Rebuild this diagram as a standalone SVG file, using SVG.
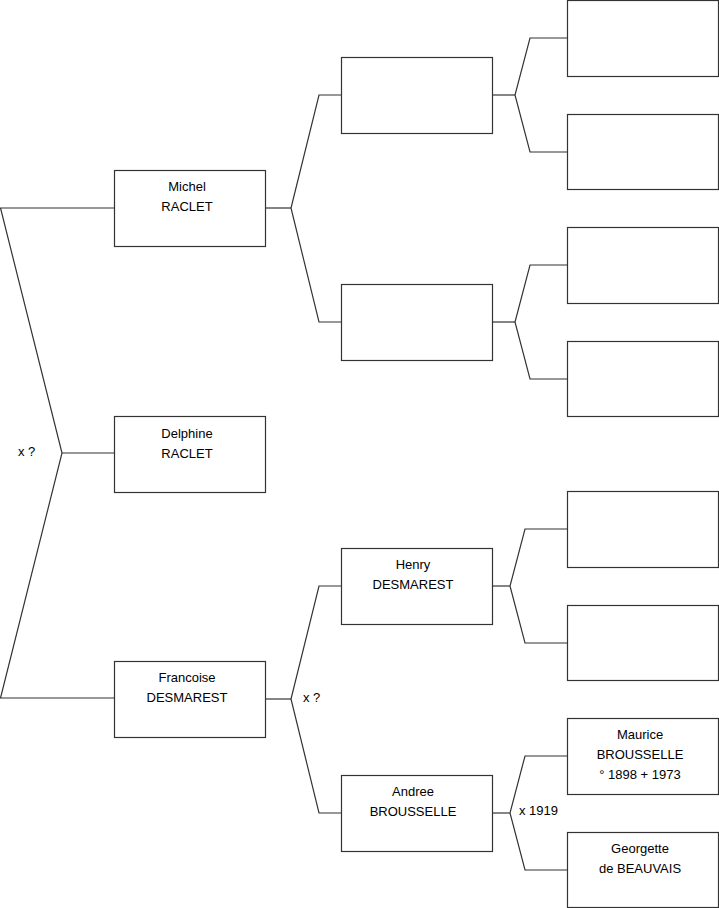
<svg xmlns="http://www.w3.org/2000/svg" width="719" height="908" viewBox="0 0 719 908">
<style>
.box{fill:#fff;stroke:#333;stroke-width:1.2}
.ln{fill:none;stroke:#333;stroke-width:1.2}
text{font-family:"Liberation Sans",Arial,sans-serif;font-size:13px;fill:#000}
.c{text-anchor:middle}
</style>
<rect width="719" height="908" fill="#fff"/>
<g id="connectors">
<polyline class="ln" points="114,208 0.5,208 62,453 0.5,698 114,698"/>
<line class="ln" x1="62" y1="453" x2="114" y2="453"/>
<polyline class="ln" points="341,95 319,95 291,208 319,322 341,322"/>
<line class="ln" x1="265" y1="208" x2="291" y2="208"/>
<polyline class="ln" points="341,586 319,586 291,699 319,813 341,813"/>
<line class="ln" x1="265" y1="699" x2="291" y2="699"/>
<polyline class="ln" points="567,38 530,38 515,95 530,152 567,152"/>
<line class="ln" x1="492" y1="95" x2="515" y2="95"/>
<polyline class="ln" points="567,265 530,265 515,322 530,379 567,379"/>
<line class="ln" x1="492" y1="322" x2="515" y2="322"/>
<polyline class="ln" points="567,529 525,529 510,586 525,643 567,643"/>
<line class="ln" x1="492" y1="586" x2="510" y2="586"/>
<polyline class="ln" points="567,756 525,756 510,813 525,870 567,870"/>
<line class="ln" x1="492" y1="813" x2="510" y2="813"/>
<text x="18" y="456">x ?</text>
<text x="303" y="702">x ?</text>
<text x="519" y="815">x 1919</text>
</g>
<g id="michel"><rect class="box" x="114.5" y="170.5" width="151" height="76"/><text class="c" x="187" y="191">Michel</text><text class="c" x="187" y="211">RACLET</text></g>
<g id="delphine"><rect class="box" x="114.5" y="416.5" width="151" height="76"/><text class="c" x="187" y="438">Delphine</text><text class="c" x="187" y="458">RACLET</text></g>
<g id="francoise"><rect class="box" x="114.5" y="661.5" width="151" height="76"/><text class="c" x="187" y="682">Francoise</text><text class="c" x="187" y="702">DESMAREST</text></g>
<g id="p1"><rect class="box" x="341.5" y="57.5" width="151" height="76"/></g>
<g id="p2"><rect class="box" x="341.5" y="284.5" width="151" height="76"/></g>
<g id="henry"><rect class="box" x="341.5" y="548.5" width="151" height="76"/><text class="c" x="413" y="569">Henry</text><text class="c" x="413" y="589">DESMAREST</text></g>
<g id="andree"><rect class="box" x="341.5" y="775.5" width="151" height="76"/><text class="c" x="413" y="796">Andree</text><text class="c" x="413" y="816">BROUSSELLE</text></g>
<g id="g1"><rect class="box" x="567.5" y="0.5" width="151" height="76"/></g>
<g id="g2"><rect class="box" x="567.5" y="114.5" width="151" height="75"/></g>
<g id="g3"><rect class="box" x="567.5" y="227.5" width="151" height="76"/></g>
<g id="g4"><rect class="box" x="567.5" y="341.5" width="151" height="75"/></g>
<g id="g5"><rect class="box" x="567.5" y="491.5" width="151" height="76"/></g>
<g id="g6"><rect class="box" x="567.5" y="605.5" width="151" height="75"/></g>
<g id="maurice"><rect class="box" x="567.5" y="718.5" width="151" height="76"/><text class="c" x="640" y="739">Maurice</text><text class="c" x="640" y="759">BROUSSELLE</text><text class="c" x="640" y="779">° 1898 + 1973</text></g>
<g id="georgette"><rect class="box" x="567.5" y="832.5" width="151" height="75"/><text class="c" x="640" y="853">Georgette</text><text class="c" x="640" y="873">de BEAUVAIS</text></g>
</svg>
